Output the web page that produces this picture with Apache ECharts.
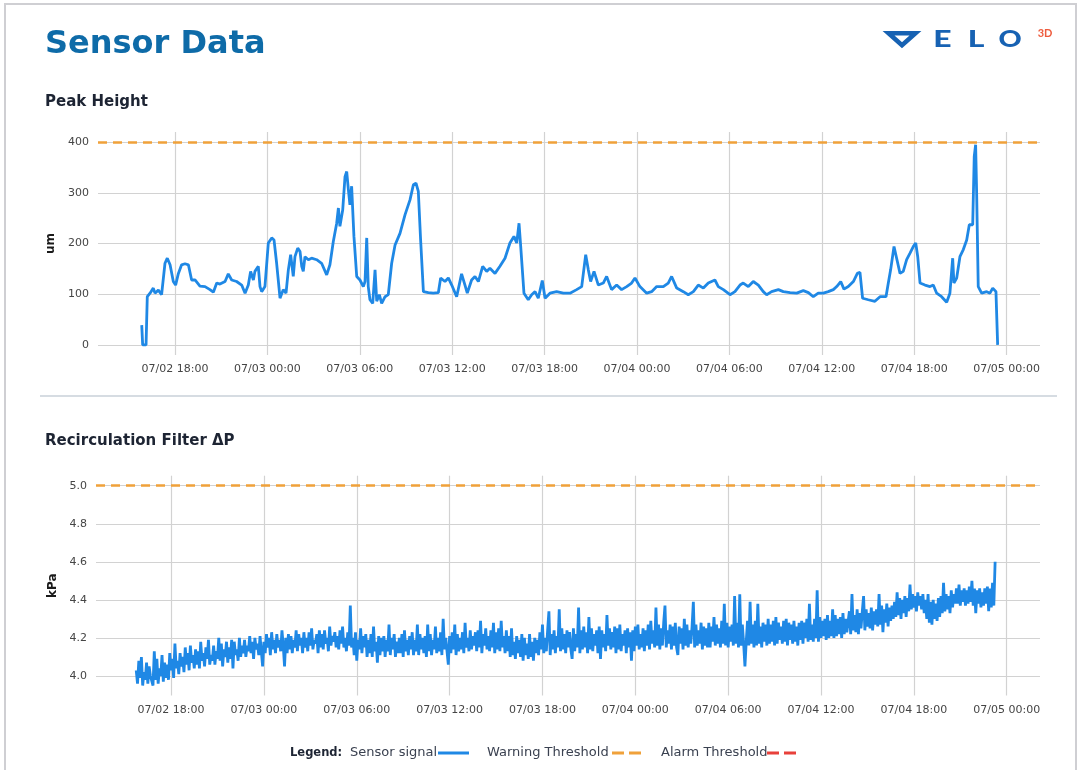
<!DOCTYPE html>
<html><head><meta charset="utf-8">
<script src="https://cdn.jsdelivr.net/npm/echarts@6/dist/echarts.min.js"></script>
<style>html,body{margin:0;padding:0;background:#fff}#c{width:1081px;height:770px}</style>
</head><body><div id="c"></div>
<script>
// ---- axis ticks (hours since 07/02 18:00) ----
const xTickHours = [0, 6, 12, 18, 24, 30, 36, 42, 48, 54];
const xTickLabels = ['07/02 18:00','07/03 00:00','07/03 06:00','07/03 12:00','07/03 18:00',
  '07/04 00:00','07/04 06:00','07/04 12:00','07/04 18:00','07/05 00:00'];
const phYTicks = [0, 100, 200, 300, 400];
const dpYTicks = [4.0, 4.2, 4.4, 4.6, 4.8, 5.0];

// ---- thresholds ----
const phWarning = 400;
const dpWarning = 5.0;

// ---- Peak Height (um): sample time (hours since 07/02 18:00) and value ----
const phHours = [
  -2.16,-2.10,-1.88,-1.80,-1.62,-1.41,-1.30,-1.08,-0.87,-0.65,-0.50,-0.32,-0.11,0.04,0.22,0.43,0.65,0.87,
  1.08,1.30,1.62,1.95,2.27,2.49,2.71,2.92,3.25,3.46,3.68,4.00,4.33,4.55,4.76,4.91,5.09,5.19,5.41,5.52,5.63,5.84,
  6.06,6.28,6.43,6.60,6.82,7.03,7.21,7.36,7.51,7.68,7.79,7.97,8.12,8.23,8.33,8.44,8.66,8.87,9.20,9.52,9.85,
  10.06,10.28,10.50,10.61,10.71,10.89,11.04,11.15,11.26,11.36,11.47,11.62,11.80,12.01,12.23,12.34,12.45,12.55,
  12.66,12.84,12.99,13.10,13.27,13.42,13.64,13.85,14.07,14.29,14.61,14.94,15.26,15.48,15.65,15.80,15.95,
  16.13,16.45,16.77,17.10,17.25,17.53,17.75,17.97,18.29,18.61,18.83,18.98,19.26,19.48,19.70,19.98,
  20.24,20.45,20.78,21.10,21.43,21.75,22.01,22.19,22.34,22.45,22.66,22.94,23.16,23.38,23.59,23.85,
  24.03,24.35,24.78,25.22,25.65,26.08,26.41,26.67,26.84,26.99,27.21,27.49,27.81,28.03,28.35,28.68,
  29.00,29.33,29.65,29.87,30.19,30.63,30.95,31.28,31.71,32.03,32.25,32.58,33.01,33.33,33.66,33.98,
  34.31,34.63,35.06,35.28,35.61,36.04,36.36,36.69,36.90,37.23,37.55,37.88,38.20,38.42,38.74,39.18,
  39.50,39.94,40.37,40.80,41.13,41.45,41.77,42.10,42.42,42.75,42.97,43.23,43.44,43.72,44.05,44.31,
  44.48,44.65,45.02,45.45,45.78,46.17,46.32,46.47,46.69,46.86,47.08,47.29,47.51,47.73,47.94,48.10,
  48.23,48.38,48.70,49.03,49.24,49.46,49.78,50.11,50.32,50.50,50.58,50.76,50.97,51.19,51.41,51.58,
  51.80,51.90,51.99,52.06,52.16,52.38,52.71,52.92,53.10,53.31,53.42
];
const phValues = [
  39,0,0,95,102,112,102,108,99,161,171,158,125,118,141,158,160,158,
  128,128,116,115,109,104,122,120,125,140,128,125,118,102,118,145,128,145,155,115,105,115,
  201,211,207,161,92,109,102,148,178,135,174,191,184,155,145,174,168,171,168,161,138,
  158,204,240,270,234,266,332,342,306,276,313,214,135,128,115,125,211,115,
  89,82,148,86,99,82,95,99,161,197,220,257,286,316,319,303,207,
  105,103,102,103,132,125,132,118,95,140,118,102,128,135,125,155,
  145,151,141,155,171,201,214,201,240,194,102,89,99,105,92,127,
  92,102,105,102,102,109,115,178,148,125,145,118,122,135,109,118,
  109,115,122,132,115,102,105,115,115,122,135,112,105,99,105,118,
  112,122,128,115,109,99,105,118,122,115,125,118,105,99,105,109,
  105,103,102,107,103,95,102,102,105,109,115,125,110,115,125,141,
  143,92,89,86,95,95,122,148,194,171,141,145,168,181,194,201,
  174,122,118,115,118,102,95,84,102,171,122,132,174,188,207,237,
  237,372,395,293,115,102,105,102,112,105,0
];

// ---- Recirculation Filter dP (kPa): samples every 5 min, one hour per row ----
const dpStartHour = -2.25;
const dpStepHours = 1 / 12;
const dpValues = [
  4.03,3.96,4.08,3.99,4.10,3.95,4.02,3.98,4.07,3.96,4.05,4.00,
  4.01,3.95,4.13,3.98,4.09,3.96,4.04,4.00,4.11,3.97,4.07,3.99,
  4.06,3.98,4.12,4.03,4.09,3.99,4.17,4.04,4.08,4.01,4.12,4.05,
  4.10,4.02,4.15,4.06,4.12,4.03,4.16,4.07,4.11,4.04,4.14,4.06,
  4.13,4.04,4.18,4.08,4.12,4.05,4.15,4.09,4.19,4.06,4.11,4.08,
  4.16,4.06,4.13,4.09,4.20,4.08,4.17,4.05,4.14,4.10,4.18,4.07,
  4.15,4.09,4.19,4.04,4.18,4.11,4.14,4.08,4.20,4.10,4.16,4.12,
  4.19,4.10,4.16,4.13,4.21,4.12,4.18,4.09,4.20,4.14,4.17,4.11,
  4.21,4.13,4.05,4.18,4.12,4.22,4.15,4.20,4.11,4.23,4.14,4.19,
  4.12,4.22,4.15,4.19,4.13,4.24,4.16,4.05,4.20,4.12,4.22,4.14,
  4.21,4.12,4.19,4.15,4.24,4.13,4.22,4.16,4.20,4.12,4.23,4.15,
  4.20,4.13,4.23,4.16,4.25,4.14,4.19,4.17,4.22,4.12,4.24,4.15,
  4.22,4.14,4.24,4.17,4.20,4.13,4.26,4.16,4.21,4.18,4.23,4.15,
  4.21,4.14,4.24,4.17,4.26,4.15,4.20,4.13,4.23,4.16,4.37,4.15,
  4.20,4.11,4.23,4.08,4.19,4.14,4.25,4.12,4.21,4.15,4.22,4.10,
  4.19,4.12,4.22,4.10,4.26,4.13,4.18,4.07,4.21,4.11,4.20,4.13,
  4.21,4.10,4.19,4.13,4.27,4.11,4.20,4.14,4.22,4.10,4.18,4.12,
  4.20,4.12,4.22,4.10,4.24,4.13,4.19,4.11,4.21,4.14,4.23,4.11,
  4.19,4.13,4.27,4.11,4.22,4.14,4.20,4.12,4.21,4.10,4.27,4.13,
  4.22,4.11,4.19,4.14,4.26,4.12,4.20,4.13,4.23,4.11,4.30,4.14,
  4.20,4.13,4.06,4.21,4.12,4.23,4.14,4.27,4.11,4.22,4.13,4.20,
  4.14,4.23,4.12,4.28,4.15,4.20,4.13,4.24,4.14,4.21,4.16,4.23,
  4.13,4.24,4.15,4.29,4.12,4.22,4.16,4.25,4.14,4.21,4.13,4.24,
  4.15,4.28,4.12,4.23,4.14,4.25,4.13,4.29,4.15,4.21,4.12,4.24,
  4.13,4.21,4.10,4.25,4.11,4.18,4.09,4.21,4.12,4.19,4.10,4.22,
  4.08,4.20,4.11,4.17,4.09,4.22,4.10,4.18,4.08,4.20,4.12,4.19,
  4.11,4.23,4.14,4.27,4.12,4.20,4.13,4.24,4.34,4.11,4.22,4.14,
  4.24,4.12,4.21,4.15,4.35,4.13,4.25,4.14,4.22,4.12,4.24,4.15,
  4.23,4.14,4.09,4.25,4.13,4.22,4.15,4.36,4.12,4.24,4.14,4.26,
  4.15,4.23,4.12,4.31,4.14,4.25,4.13,4.22,4.16,4.24,4.12,4.26,
  4.09,4.24,4.15,4.22,4.13,4.32,4.16,4.25,4.14,4.23,4.15,4.26,
  4.12,4.25,4.14,4.27,4.13,4.22,4.16,4.24,4.12,4.25,4.15,4.23,
  4.08,4.24,4.13,4.26,4.16,4.27,4.14,4.22,4.15,4.25,4.13,4.24,
  4.16,4.27,4.14,4.29,4.17,4.24,4.15,4.36,4.16,4.27,4.14,4.25,
  4.16,4.28,4.37,4.15,4.24,4.17,4.27,4.14,4.26,4.16,4.28,4.15,
  4.11,4.26,4.17,4.25,4.14,4.30,4.16,4.27,4.15,4.24,4.17,4.26,
  4.39,4.15,4.27,4.16,4.24,4.17,4.28,4.14,4.26,4.16,4.25,4.15,
  4.28,4.15,4.26,4.18,4.31,4.16,4.27,4.17,4.25,4.15,4.29,4.17,
  4.38,4.16,4.28,4.15,4.26,4.18,4.27,4.16,4.42,4.17,4.28,4.15,
  4.43,4.16,4.27,4.17,4.05,4.18,4.29,4.16,4.39,4.17,4.27,4.15,
  4.29,4.16,4.38,4.17,4.26,4.15,4.28,4.18,4.27,4.16,4.30,4.17,
  4.27,4.18,4.29,4.16,4.31,4.17,4.28,4.19,4.26,4.17,4.29,4.18,
  4.30,4.16,4.28,4.19,4.27,4.17,4.29,4.18,4.26,4.16,4.28,4.19,
  4.29,4.17,4.28,4.20,4.30,4.18,4.38,4.19,4.27,4.18,4.30,4.20,
  4.45,4.18,4.31,4.20,4.29,4.21,4.30,4.19,4.32,4.20,4.29,4.21,
  4.35,4.20,4.32,4.21,4.30,4.22,4.31,4.20,4.33,4.22,4.30,4.23,
  4.23,4.34,4.22,4.43,4.24,4.32,4.23,4.35,4.22,4.33,4.25,4.34,
  4.42,4.24,4.35,4.26,4.33,4.25,4.36,4.24,4.34,4.27,4.35,4.26,
  4.43,4.27,4.37,4.23,4.35,4.28,4.38,4.26,4.36,4.29,4.37,4.30,
  4.39,4.31,4.44,4.32,4.41,4.30,4.40,4.33,4.42,4.31,4.41,4.34,
  4.48,4.35,4.43,4.36,4.42,4.34,4.44,4.37,4.42,4.35,4.43,4.33,
  4.40,4.30,4.43,4.28,4.39,4.27,4.40,4.30,4.38,4.29,4.41,4.31,
  4.42,4.33,4.49,4.34,4.43,4.35,4.42,4.33,4.45,4.36,4.43,4.38,
  4.46,4.38,4.48,4.37,4.45,4.39,4.46,4.37,4.45,4.38,4.47,4.39,
  4.50,4.37,4.46,4.33,4.45,4.38,4.46,4.36,4.44,4.37,4.46,4.38,
  4.47,4.34,4.46,4.36,4.49,4.37,4.60
];

const BLUE = '#1f88e5', ORANGE = '#f0a13a', RED = '#e8413b';
const GRIDC = '#d2d2d2';
const tickFont = {fontFamily: 'DejaVu Sans', fontSize: 11, color: '#454545'};
const nameFont = {fontFamily: 'DejaVu Sans', fontSize: 12, fontWeight: 'bold', color: '#1a1a1a'};

function xLabel(v) {
  const i = xTickHours.indexOf(Math.round(v));
  return i >= 0 ? xTickLabels[i] : '';
}
function makeX(gridIndex, min, max) {
  return {
    type: 'value', gridIndex, min, max,
    axisLine: {show: false},
    axisTick: {show: false, customValues: xTickHours},
    axisLabel: Object.assign({customValues: xTickHours, formatter: xLabel, margin: 9}, tickFont),
    splitLine: {show: true, lineStyle: {color: GRIDC, width: 1.2}}
  };
}
function makeY(gridIndex, min, max, ticks, name, fmt) {
  return {
    type: 'value', gridIndex, min, max, name,
    nameLocation: 'middle', nameGap: 34, nameTextStyle: nameFont,
    axisLine: {show: false},
    axisTick: {show: false, customValues: ticks},
    axisLabel: Object.assign({customValues: ticks, formatter: fmt, margin: 9}, tickFont),
    splitLine: {show: true, lineStyle: {color: GRIDC, width: 1.2}}
  };
}
function warnLine(v) {
  return {
    silent: true, symbol: 'none', label: {show: false},
    lineStyle: {color: ORANGE, type: [9, 6], width: 2.5},
    data: [{yAxis: v}]
  };
}

const phData = phHours.map((h, i) => [h, phValues[i]]);
const dpData = dpValues.map((v, i) => [dpStartHour + i * dpStepHours, v]);

const txt = (text, x, y, extra) => ({type: 'text', x, y, silent: true,
  style: Object.assign({text, verticalAlign: 'middle'}, extra)});
const legFont = {fontFamily: 'DejaVu Sans', fontSize: 13, fill: '#3a4150'};
const headFont = {fontFamily: 'DejaVu Sans', fontWeight: 'bold', fontSize: 15, fill: '#1d2433'};

const option = {
  animation: false,
  backgroundColor: '#ffffff',
  grid: [
    {left: 98, width: 942, top: 132, height: 223},
    {left: 96, width: 944, top: 475.7, height: 219.8}
  ],
  xAxis: [makeX(0, -5.0, 56.17), makeX(1, -4.85, 56.15)],
  yAxis: [
    makeY(0, -20, 420, phYTicks, 'um', v => String(v)),
    makeY(1, 3.8975, 5.0525, dpYTicks, 'kPa', v => v.toFixed(1))
  ],
  series: [
    {type: 'line', xAxisIndex: 0, yAxisIndex: 0, data: phData, showSymbol: false,
      lineStyle: {color: BLUE, width: 2.8}, z: 3, markLine: warnLine(phWarning)},
    {type: 'line', xAxisIndex: 1, yAxisIndex: 1, data: dpData, showSymbol: false, sampling: null,
      lineStyle: {color: BLUE, width: 2.8}, z: 3, markLine: warnLine(dpWarning)}
  ],
  graphic: [
    {type: 'rect', silent: true, shape: {x: 5, y: 4, width: 1071, height: 800},
      style: {fill: 'none', stroke: '#cfcfd3', lineWidth: 2}},
    txt('Sensor Data', 45, 45, {fontFamily: 'DejaVu Sans', fontWeight: 'bold', fontSize: 32, fill: '#0e6ba8'}),
    txt('Peak Height', 45, 102, headFont),
    txt('Recirculation Filter \u0394P', 45, 441, headFont),
    {type: 'line', silent: true, shape: {x1: 40, y1: 396, x2: 1057, y2: 396},
      style: {stroke: '#c8d0d8', lineWidth: 1.5}},
    // logo
    {type: 'polygon', silent: true, shape: {points: [[888.5, 33.2], [915.5, 33.2], [902, 45.2]]},
      style: {fill: 'none', stroke: '#1762b3', lineWidth: 4.5, lineJoin: 'miter'}},
    {type: 'text', x: 942.5, y: 39.5, scaleX: 1.45, silent: true,
      style: {text: 'E', align: 'center', verticalAlign: 'middle', fontFamily: 'Lato', fontWeight: 900, fontSize: 22, fill: '#1762b3'}},
    {type: 'text', x: 976, y: 39.5, scaleX: 1.45, silent: true,
      style: {text: 'L', align: 'center', verticalAlign: 'middle', fontFamily: 'Lato', fontWeight: 900, fontSize: 22, fill: '#1762b3'}},
    {type: 'text', x: 1010, y: 39.5, scaleX: 1.3, silent: true,
      style: {text: 'O', align: 'center', verticalAlign: 'middle', fontFamily: 'Lato', fontWeight: 900, fontSize: 22, fill: '#1762b3'}},
    {type: 'text', x: 1045, y: 33.5, silent: true,
      style: {text: '3D', align: 'center', verticalAlign: 'middle', fontFamily: 'Lato', fontWeight: 'bold', fontSize: 11, fill: '#ee5b3d'}},
    // legend
    txt('Legend:', 290, 753, Object.assign({}, legFont, {fontWeight: 'bold', fontSize: 11.5, fill: '#1d2433'})),
    txt('Sensor signal', 350, 753, legFont),
    {type: 'line', silent: true, shape: {x1: 438, y1: 753, x2: 469, y2: 753}, style: {stroke: BLUE, lineWidth: 3}},
    txt('Warning Threshold', 487, 753, legFont),
    {type: 'line', silent: true, shape: {x1: 612, y1: 753, x2: 641, y2: 753},
      style: {stroke: ORANGE, lineWidth: 3, lineDash: [12, 5]}},
    txt('Alarm Threshold', 661, 753, legFont),
    {type: 'line', silent: true, shape: {x1: 767, y1: 753, x2: 796, y2: 753},
      style: {stroke: RED, lineWidth: 3, lineDash: [12, 5]}}
  ]
};
echarts.init(document.getElementById('c'), null, {renderer: 'canvas'}).setOption(option);
</script></body></html>
